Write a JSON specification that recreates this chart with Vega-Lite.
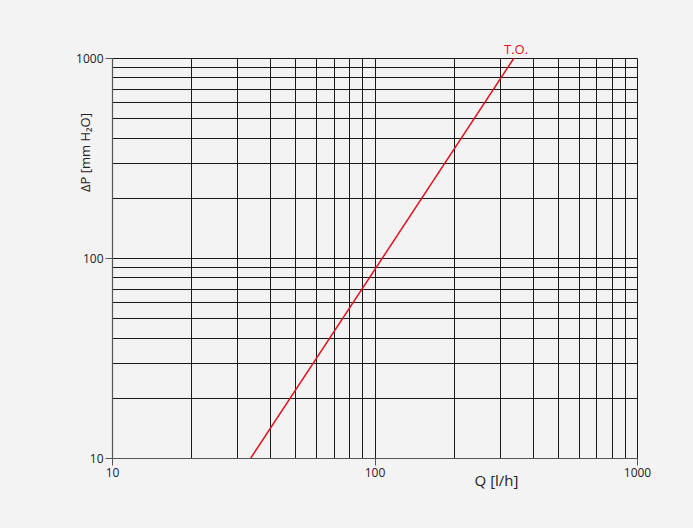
{
  "$schema": "https://vega.github.io/schema/vega-lite/v6.json",
  "width": 525,
  "height": 400,
  "autosize": {"type": "none"},
  "padding": {"left": 112, "top": 58, "right": 56, "bottom": 70},
  "background": "#f3f3f3",
  "config": {
    "view": {"stroke": null},
    "font": "Open Sans"
  },
  "data": {
    "values": [
      {"Q": 33.8, "dP": 10, "label": ""},
      {"Q": 340, "dP": 1000, "label": "T.O."}
    ]
  },
  "layer": [
    {
      "mark": {"type": "line", "color": "#e3101e", "strokeWidth": 1.5, "clip": true},
      "encoding": {
        "x": {
          "field": "Q", "type": "quantitative",
          "scale": {"type": "log", "domain": [10, 1000], "nice": false},
          "axis": {
            "values": [10, 20, 30, 40, 50, 60, 70, 80, 90, 100, 200, 300, 400, 500, 600, 700, 800, 900, 1000],
            "labelExpr": "datum.value==1000?'1000':datum.value==100?'100':datum.value==10?'10':''",
            "grid": true, "gridColor": "#1a1a1a", "gridOpacity": 1, "gridWidth": 1,
            "domainColor": "#555555", "domainWidth": 1.2,
            "tickColor": "#555555", "tickSize": 7,
            "tickOpacity": {"condition": {"test": "datum.value==10||datum.value==100||datum.value==1000", "value": 1}, "value": 0},
            "labelFont": "Open Sans", "labelFontSize": 12, "labelColor": "#222222", "labelPadding": 2,
            "labelFlush": false, "labelOverlap": false,
            "title": "Q [l/h]", "titleFont": "Open Sans", "titleFontSize": 15, "titleFontWeight": "normal", "titleColor": "#222222",
            "titleX": 384, "titleY": 27, "titleAlign": "center", "titleBaseline": "alphabetic"
          }
        },
        "y": {
          "field": "dP", "type": "quantitative",
          "scale": {"type": "log", "domain": [10, 1000], "nice": false},
          "axis": {
            "values": [10, 20, 30, 40, 50, 60, 70, 80, 90, 100, 200, 300, 400, 500, 600, 700, 800, 900, 1000],
            "labelExpr": "datum.value==1000?'1000':datum.value==100?'100':datum.value==10?'10':''",
            "grid": true, "gridColor": "#1a1a1a", "gridOpacity": 1, "gridWidth": 1,
            "domainColor": "#555555", "domainWidth": 1.2,
            "tickColor": "#555555", "tickSize": 7,
            "tickOpacity": {"condition": {"test": "datum.value==10||datum.value==100||datum.value==1000", "value": 1}, "value": 0},
            "labelFont": "Open Sans", "labelFontSize": 12, "labelColor": "#222222", "labelPadding": 2,
            "labelFlush": false, "labelOverlap": false,
            "title": "ΔP [mm H₂O]", "titleFont": "Open Sans", "titleFontSize": 13, "titleFontWeight": "normal", "titleColor": "#222222",
            "titleX": -27, "titleY": 94, "titleAngle": -90, "titleAlign": "center", "titleBaseline": "middle"
          }
        }
      }
    },
    {
      "mark": {"type": "text", "color": "#e3101e", "fontSize": 13, "font": "Open Sans", "align": "center", "baseline": "alphabetic", "dy": -4, "dx": 2},
      "encoding": {
        "x": {"field": "Q", "type": "quantitative"},
        "y": {"field": "dP", "type": "quantitative"},
        "text": {"field": "label"}
      }
    }
  ]
}
